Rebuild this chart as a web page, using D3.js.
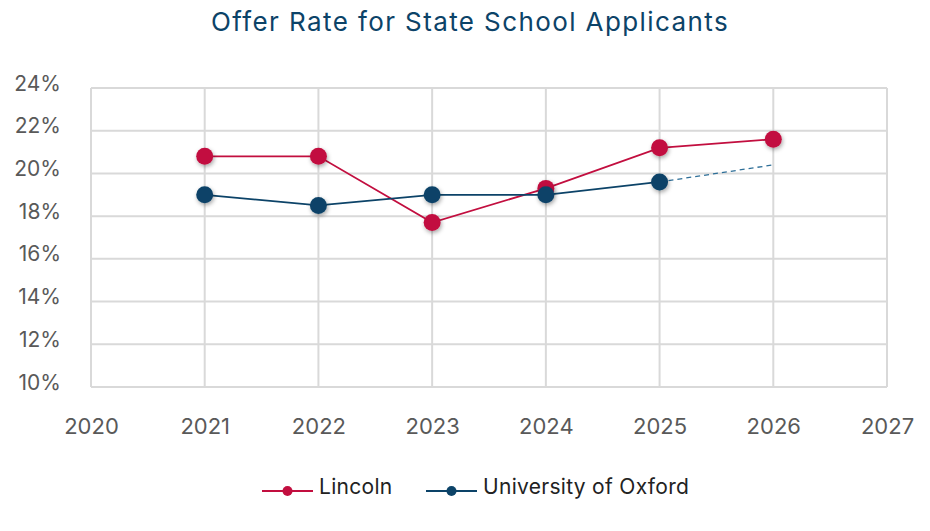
<!DOCTYPE html>
<html>
<head>
    <title>Offer Rate for State School Applicants</title>
    <script src="https://d3js.org/d3.v7.min.js"></script>
    <style>
        body { margin: 0; background: #fff; }
        svg { display: block; font-family: Inter, "Open Sans", sans-serif; }
    </style>
</head>
<body>
    <div id="chart"></div>
    <script>
        // Data
        const years = [2021, 2022, 2023, 2024, 2025, 2026];
        const lincoln = [20.8, 20.8, 17.7, 19.3, 21.2, 21.6];
        const oxford = [19.0, 18.5, 19.0, 19.0, 19.6];
        const oxfordTrend = [[2025, 19.6], [2026, 20.4]];
        const xTicks = [2020, 2021, 2022, 2023, 2024, 2025, 2026, 2027];
        const yTicks = [10, 12, 14, 16, 18, 20, 22, 24];

        const series = [
            {name: "Lincoln", color: "#c20e3f", values: lincoln},
            {name: "University of Oxford", color: "#0c4368", values: oxford}
        ];

        const W = 930, H = 531;
        const margin = {top: 88, right: 43, bottom: 144, left: 91};
        const width = W - margin.left - margin.right;
        const height = H - margin.top - margin.bottom;

        const svg = d3.select("#chart").append("svg")
            .attr("width", W)
            .attr("height", H);

        // soft shadow under markers
        const f = svg.append("defs").append("filter")
            .attr("id", "shadow")
            .attr("x", "-50%").attr("y", "-50%")
            .attr("width", "200%").attr("height", "200%");
        f.append("feDropShadow")
            .attr("dx", 1).attr("dy", 2)
            .attr("stdDeviation", 2)
            .attr("flood-color", "#000")
            .attr("flood-opacity", 0.35);

        svg.append("text")
            .attr("x", 470).attr("y", 31)
            .attr("text-anchor", "middle")
            .attr("fill", "#0c4368")
            .style("font-size", "26px")
            .style("letter-spacing", "1.4px")
            .text("Offer Rate for State School Applicants");

        const g = svg.append("g")
            .attr("transform", `translate(${margin.left},${margin.top})`);

        const x = d3.scaleLinear().domain([2020, 2027]).range([0, width]);
        const y = d3.scaleLinear().domain([10, 24]).range([height, 0]);

        // grid
        g.append("g").selectAll("line")
            .data(yTicks).join("line")
            .attr("x1", 0).attr("x2", width)
            .attr("y1", d => y(d)).attr("y2", d => y(d))
            .attr("stroke", "#d9d9d9").attr("stroke-width", 2);
        g.append("g").selectAll("line")
            .data(xTicks).join("line")
            .attr("x1", d => x(d)).attr("x2", d => x(d))
            .attr("y1", 0).attr("y2", height)
            .attr("stroke", "#d9d9d9").attr("stroke-width", 2);

        // axes (labels only)
        const yAxis = g.append("g")
            .call(d3.axisLeft(y).tickValues(yTicks).tickSize(0).tickPadding(30)
                .tickFormat(d => d + "%"));
        const xAxis = g.append("g")
            .attr("transform", `translate(0,${height})`)
            .call(d3.axisBottom(x).tickValues(xTicks).tickSize(0).tickPadding(31)
                .tickFormat(d3.format("d")));
        [yAxis, xAxis].forEach(a => {
            a.select(".domain").remove();
            a.selectAll("text")
                .attr("fill", "#595959")
                .style("font-family", "Inter, sans-serif");
        });
        yAxis.selectAll("text").attr("dy", "0.1em").style("font-size", "21px");
        xAxis.selectAll("text").style("font-size", "22px");

        const line = d3.line()
            .x(d => x(d[0]))
            .y(d => y(d[1]));

        // dashed trend for Oxford
        g.append("path")
            .datum(oxfordTrend)
            .attr("d", line)
            .attr("fill", "none")
            .attr("stroke", "#2e6f98")
            .attr("stroke-width", 1.3)
            .attr("stroke-dasharray", "5,4");

        series.forEach(s => {
            const pts = s.values.map((v, i) => [years[i], v]);
            g.append("path")
                .datum(pts)
                .attr("d", line)
                .attr("fill", "none")
                .attr("stroke", s.color)
                .attr("stroke-width", 1.8);
            g.append("g").selectAll("circle")
                .data(pts).join("circle")
                .attr("cx", d => x(d[0]))
                .attr("cy", d => y(d[1]))
                .attr("r", 8.5)
                .attr("fill", s.color)
                .attr("filter", "url(#shadow)");
        });

        // legend
        const legendX = [262, 426];
        const legend = svg.append("g").attr("transform", "translate(0,491)");
        series.forEach((s, i) => {
            const lg = legend.append("g").attr("transform", `translate(${legendX[i]},0)`);
            lg.append("line")
                .attr("x1", 0).attr("x2", 51)
                .attr("stroke", s.color).attr("stroke-width", 2);
            lg.append("circle")
                .attr("cx", 25.5).attr("r", 5)
                .attr("fill", s.color);
            lg.append("text")
                .attr("x", 57).attr("y", -4).attr("dy", "0.35em")
                .attr("fill", "#222")
                .style("font-size", "21px")
                .style("letter-spacing", "0.3px")
                .text(s.name);
        });
    </script>
</body>
</html>
